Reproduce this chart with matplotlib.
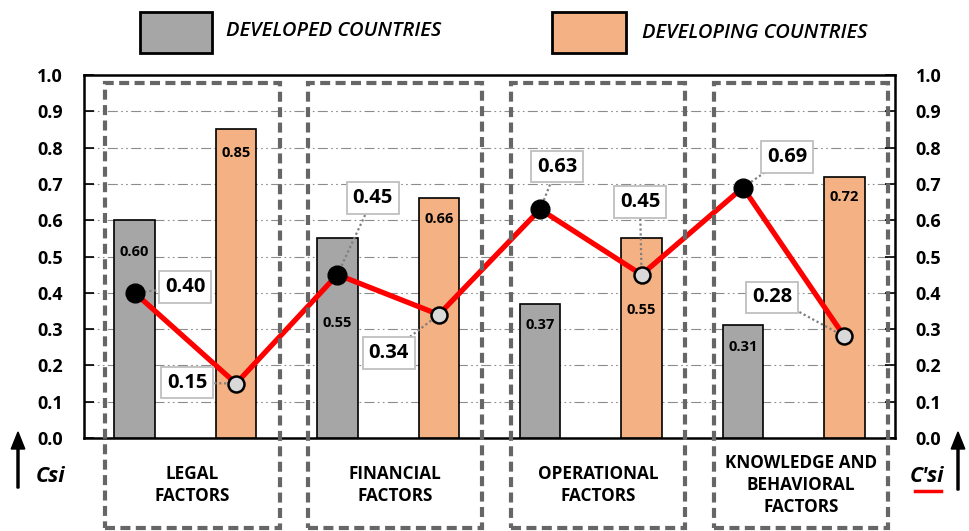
import matplotlib
matplotlib.use("Agg")
import matplotlib.pyplot as plt
from matplotlib.patches import Rectangle, FancyArrow
from matplotlib.lines import Line2D
import numpy as np

plt.rcParams['font.family'] = ['Open Sans', 'DejaVu Sans']

categories = ["LEGAL\nFACTORS", "FINANCIAL\nFACTORS", "OPERATIONAL\nFACTORS",
              "KNOWLEDGE AND\nBEHAVIORAL\nFACTORS"]
series_names = ["DEVELOPED COUNTRIES", "DEVELOPING COUNTRIES"]
developed = [0.60, 0.55, 0.37, 0.31]
developing = [0.85, 0.66, 0.55, 0.72]
csi = [0.40, 0.45, 0.63, 0.69]        # line values at developed bars
c_csi = [0.15, 0.34, 0.45, 0.28]      # line values at developing bars
yticks = [0.0, 0.1, 0.2, 0.3, 0.4, 0.5, 0.6, 0.7, 0.8, 0.9, 1.0]

# layout (positions only)
bar_off = 0.25
bar_w = 0.2
dev_lbl_drop = [0.088, 0.233, 0.059, 0.059]
dvl_lbl_drop = [0.065, 0.057, 0.197, 0.056]
ann_pos = [(-0.002, 0.416), (0.008, 0.152), (0.925, 0.661), (1.004, 0.234),
           (1.833, 0.747), (2.242, 0.650), (2.967, 0.774), (2.893, 0.388)]

GRAY = '#a6a6a6'
ORANGE = '#f4b183'

fig = plt.figure(figsize=(9.70, 5.31), dpi=100)
ax = fig.add_axes([84/970, 1-438/531, (895-84)/970, (438-75)/531])

x = np.arange(len(categories))
ax.bar(x - bar_off, developed, width=bar_w, color=GRAY, edgecolor='black', linewidth=1.2, zorder=3)
ax.bar(x + bar_off, developing, width=bar_w, color=ORANGE, edgecolor='black', linewidth=1.2, zorder=3)

for i in range(len(categories)):
    ax.text(x[i] - bar_off, developed[i] - dev_lbl_drop[i], f"{developed[i]:.2f}",
            ha='center', va='center', fontsize=10.5, fontweight='bold', zorder=4)
    ax.text(x[i] + bar_off, developing[i] - dvl_lbl_drop[i], f"{developing[i]:.2f}",
            ha='center', va='center', fontsize=10.5, fontweight='bold', zorder=4)

lx, ly, kinds = [], [], []
for i in range(len(categories)):
    lx += [x[i] - bar_off, x[i] + bar_off]
    ly += [csi[i], c_csi[i]]
    kinds += ['d', 'v']
ax.plot(lx, ly, color='#ff0000', lw=3.8, zorder=5, solid_capstyle='round')
for xx, yy, k in zip(lx, ly, kinds):
    if k == 'd':
        ax.plot(xx, yy, 'o', ms=13.5, mfc='black', mec='black', zorder=6)
    else:
        ax.plot(xx, yy, 'o', ms=11.5, mfc='#d9d9d9', mec='black', mew=1.8, zorder=6)

for (xx, yy), (axp, ayp) in zip(zip(lx, ly), ann_pos):
    ax.plot([xx, axp], [yy, ayp], color='#7f7f7f', lw=1.6, ls=(0, (1, 1.2)), zorder=5.5)
    ax.text(axp, ayp, f"{yy:.2f}", ha='center', va='center', fontsize=14.5,
            fontweight='bold', zorder=7,
            bbox=dict(boxstyle='square,pad=0.28', fc='white', ec='#bfbfbf', lw=1.3))

for i in range(len(categories)):
    r = Rectangle((x[i] - 0.395, -0.248), 0.86, 0.978 + 0.248, fill=False,
                  ec='#666666', lw=3, ls=(0, (2.4, 1.3)), clip_on=False, zorder=8)
    ax.add_patch(r)
    ax.text(x[i] + 0.035, -0.13, categories[i], ha='center', va='center',
            fontsize=12.3, fontweight='bold', linespacing=1.3, clip_on=False)

ax.set_xlim(-0.5, len(categories) - 0.5)
ax.set_ylim(0, 1.0)
ax.set_xticks([])
ax.set_yticks(yticks)
ax.set_yticklabels([f"{v:.1f}" for v in yticks])
ax.tick_params(axis='y', direction='in', length=7, width=1.2, left=True, right=True,
               labelleft=True, labelright=True, pad=15, labelsize=13)
for lbl in ax.get_yticklabels():
    lbl.set_fontweight('bold')
ax.yaxis.grid(True, color='#8c8c8c', lw=0.8, ls=(0, (9, 3, 1.5, 3, 1.5, 3)), zorder=0)
ax.set_axisbelow(True)
for s in ax.spines.values():
    s.set_linewidth(1.8)

fig.add_artist(Rectangle((140/970, 1-53/531), 72/970, 41/531, transform=fig.transFigure,
                         fc=GRAY, ec='black', lw=2))
fig.text(226/970, 1-31/531, series_names[0], fontsize=14.5, style='italic', fontweight='semibold',
         va='center', ha='left')
fig.add_artist(Rectangle((552/970, 1-53/531), 74/970, 41/531, transform=fig.transFigure,
                         fc=ORANGE, ec='black', lw=2))
fig.text(642/970, 1-33/531, series_names[1], fontsize=14.5, style='italic', fontweight='semibold',
         va='center', ha='left')

fig.add_artist(FancyArrow(18/970, 1-488/531, 0, 56/531, width=0.0021,
                          head_width=0.014, head_length=0.032, length_includes_head=True,
                          transform=fig.transFigure, color='black'))
fig.add_artist(FancyArrow(958/970, 1-490/531, 0, 58/531, width=0.0021,
                          head_width=0.014, head_length=0.032, length_includes_head=True,
                          transform=fig.transFigure, color='black'))
fig.text(51/970, 1-477/531, "Csi", fontsize=15.5, style='italic', fontweight='bold',
         ha='center', va='center')
fig.text(927/970, 1-477/531, "C'si", fontsize=15.5, style='italic', fontweight='bold',
         ha='center', va='center')
fig.add_artist(Line2D([915/970, 941/970], [1-491/531, 1-491/531], transform=fig.transFigure,
                      color='#ff0000', lw=2.5))

fig.savefig("out.png", dpi=100)
